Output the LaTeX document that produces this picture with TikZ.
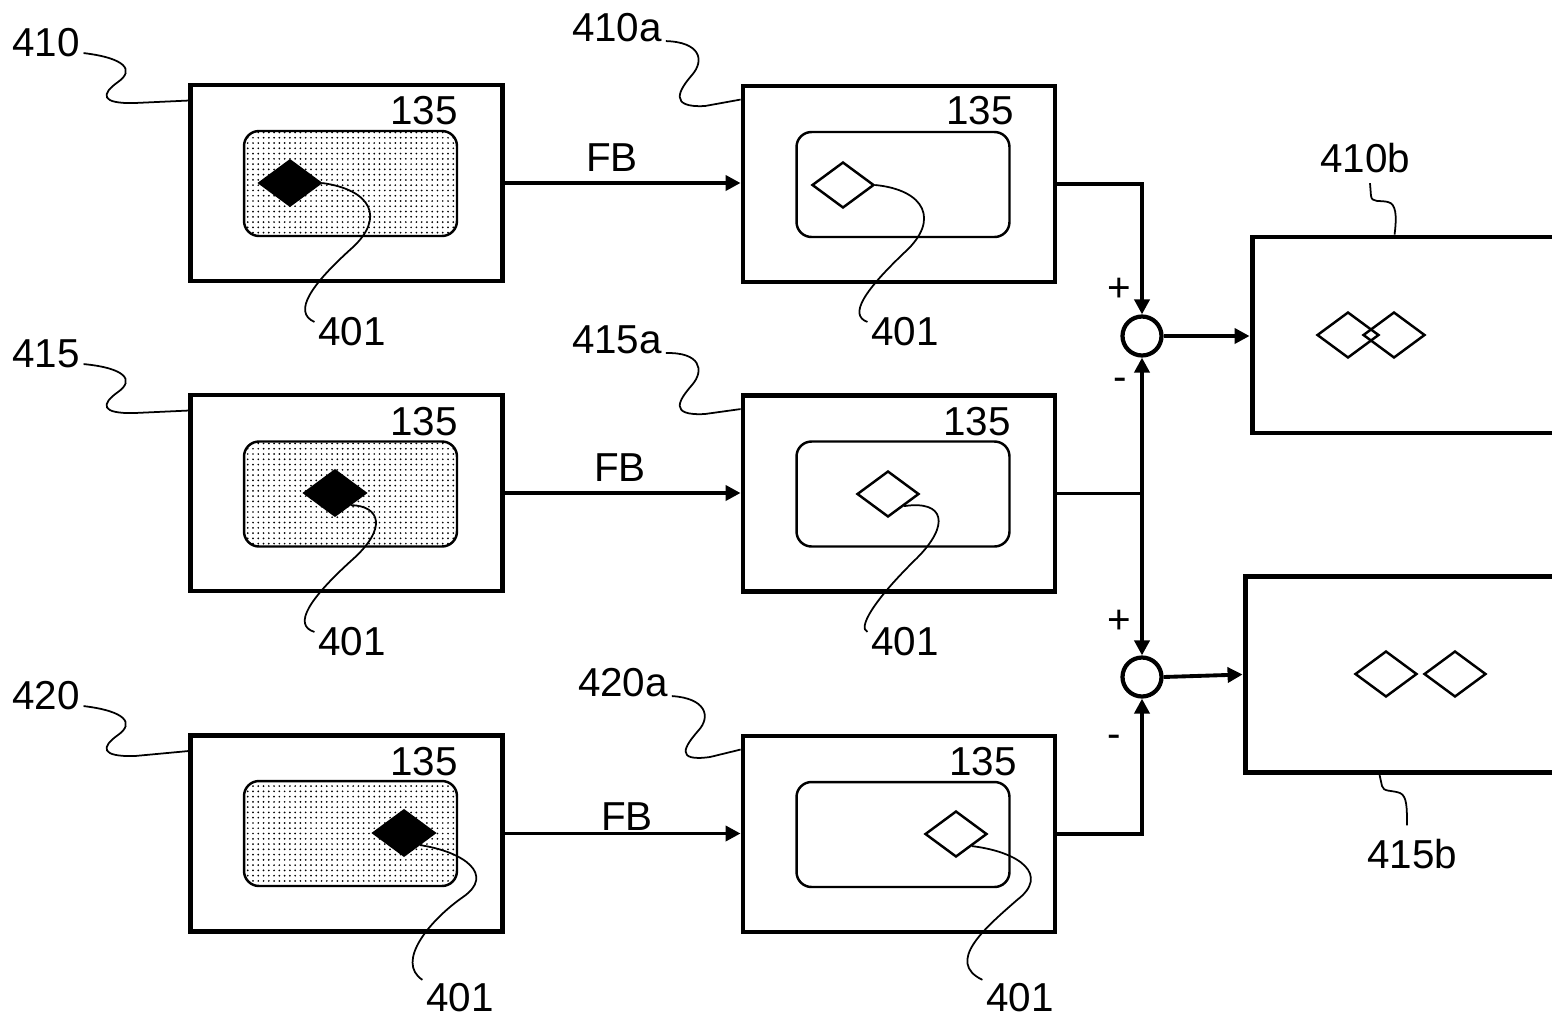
\documentclass[tikz,border=0pt]{standalone}
\usepackage{fontspec}
\setmainfont{Liberation Sans}
\usetikzlibrary{shapes.geometric,arrows.meta,patterns.meta,calc,positioning}
\tikzset{
  frame/.style={
    shape = rectangle,
    draw,
    line width = 2.8pt,
    inner sep = 0pt,
    minimum width = 6.24cm,
    minimum height = 3.92cm
  },
  screen/.style={
    shape = rectangle,
    draw,
    rounded corners = 0.3cm,
    line width = 1.4pt,
    inner sep = 0pt,
    minimum width = 4.26cm,
    minimum height = 2.1cm
  },
  dotscreen/.style={
    screen,
    pattern = {Dots[distance=3pt, radius=0.55pt]}
  },
}
\tikzset{
  spot/.style={
    shape = diamond,
    draw,
    fill = white,
    line width = 1.4pt,
    inner sep = 0pt,
    minimum width = 1.24cm,
    minimum height = 0.92cm
  },
  spotfill/.style={
    spot,
    fill = black
  },
  sumpt/.style={
    shape = circle,
    draw,
    fill = white,
    line width = 2.4pt,
    inner sep = 0pt,
    minimum size = 0.78cm
  },
  num/.style={
    font = \fontsize{23}{27}\selectfont,
    inner sep = 2pt
  },
  lead/.style={
    line width = 1pt
  },
  link/.style={
    line width = 2.2pt
  },
  flow/.style={
    line width = 2.2pt,
    -{Triangle[length=0.3cm, width=0.3cm]}
  }
}

\begin{document}
\begin{tikzpicture}[x=0.02cm, y=-0.02cm]
    \useasboundingbox (0,0) rectangle (1552,1018);
    % camera frames
    \node[frame] (L1) at (346.5,183) {};
    \node[frame] (L2) at (346.5,493) {};
    \node[frame] (L3) at (346.5,833.5) {};
    \node[frame] (M1) at (899,184) {};
    \node[frame] (M2) at (899,493.5) {};
    \node[frame] (M3) at (899,834) {};
    \node[frame] (B1) at (1408,335) {};
    \node[frame] (B2) at (1401,674.5) {};
    \node[dotscreen] (Ls1) at (350.5,183.5) {};
    \node[dotscreen] (Ls2) at (350.5,494) {};
    \node[dotscreen] (Ls3) at (350.5,833.5) {};
    \node[screen] (Ms1) at (903,184.5) {};
    \node[screen] (Ms2) at (903,494) {};
    \node[screen] (Ms3) at (903,834.5) {};
    \node[num] at (424,111) {135};
    \node[num] at (424,422) {135};
    \node[num] at (424,762) {135};
    \node[num] at (980,111) {135};
    \node[num] at (977,422) {135};
    \node[num] at (983,762) {135};
    % objects
    \node[spotfill] (Ld1) at (290,183) {};
    \node[spotfill] (Ld2) at (335,493) {};
    \node[spotfill] (Ld3) at (404,833) {};
    \node[spot] (Md1) at (843,185) {};
    \node[spot] (Md2) at (888,494) {};
    \node[spot] (Md3) at (956,834) {};
    \node[spot] (Bd1) at (1348,335) {};
    \node[spot, fill=none] (Bd2) at (1394,335) {};
    \node[spot] (Bd3) at (1386,674) {};
    \node[spot] (Bd4) at (1455,674) {};
    % 401 labels
    \node[num] (n1) at (352,332) {401};
    \node[num] (n2) at (905,332) {401};
    \node[num] (n3) at (352,642) {401};
    \node[num] (n4) at (905,642) {401};
    \node[num] (n5) at (460,998) {401};
    \node[num] (n6) at (1020,998) {401};
    \draw[lead] (Ld1.east) .. controls (372,190) and (385,218) .. (352,248) .. controls (312,284) and (292,312) .. (n1.165);
    \draw[lead] (Md1.east) .. controls (925,190) and (940,220) .. (905,252) .. controls (865,290) and (848,315) .. (n2.165);
    \draw[lead] (Ld2.south east) .. controls (380,506) and (388,528) .. (352,560) .. controls (310,598) and (292,625) .. (n3.165);
    \draw[lead] (Md2.south east) .. controls (945,500) and (950,525) .. (917,558) .. controls (872,602) and (858,628) .. (n4.165);
    \draw[lead] (Ld3.south east) .. controls (465,852) and (495,875) .. (463,897) .. controls (430,920) and (395,962) .. (n5.north west);
    \draw[lead] (Md3.south east) .. controls (1020,852) and (1050,875) .. (1017,900) .. controls (985,928) and (945,962) .. (n6.north west);
    % frame labels
    \node[num] (l410) at (46,43) {410};
    \node[num] (l415) at (46,354) {415};
    \node[num] (l420) at (46,696) {420};
    \node[num] (l410a) at (617,28) {410a};
    \node[num] (l415a) at (617,340) {415a};
    \node[num] (l420a) at (623,683) {420a};
    \node[num] (l410b) at (1365,158) {410b};
    \node[num] (l415b) at (1412,854) {415b};
    \draw[lead] (l410.-15) .. controls (125,58) and (135,70) .. (118,82) .. controls (101,94) and (100,104) .. (135,103) -- ($(L1.north west)+(0,18)$);
    \draw[lead] (l415.-15) .. controls (125,368) and (135,380) .. (118,392) .. controls (101,404) and (100,414) .. (135,413) -- ($(L2.north west)+(0,18)$);
    \draw[lead] (l420.-15) .. controls (125,711) and (135,723) .. (118,735) .. controls (101,747) and (100,757) .. (135,756) -- ($(L3.north west)+(0,18)$);
    \draw[lead] (l410a.-15) .. controls (700,42) and (705,60) .. (692,75) .. controls (679,90) and (668,108) .. (705,106) -- ($(M1.north west)+(0,16)$);
    \draw[lead] (l415a.-15) .. controls (700,352) and (705,370) .. (692,385) .. controls (679,400) and (668,416) .. (705,414) -- ($(M2.north west)+(0,16)$);
    \draw[lead] (l420a.-15) .. controls (705,698) and (712,716) .. (698,731) .. controls (685,746) and (674,762) .. (710,757) -- ($(M3.north west)+(0,16)$);
    \draw[lead] ([xshift=0.1cm,yshift=-0.13cm]l410b.south) -- (1371,196) .. controls (1372,203) and (1380,200) .. (1388,202) .. controls (1396,204) and (1397,215) .. ($(B1.north west)+(145,0)$);
    \draw[lead] ($(B2.south west)+(137,0)$) -- (1382,786) .. controls (1383,792) and (1392,790) .. (1400,793) .. controls (1407,796) and (1407,808) .. ([xshift=-0.1cm,yshift=0.2cm]l415b.north);
    % feedback paths
    \draw[flow] (L1.east) -- (L1.east -| M1.west);
    \draw[flow] (L2.east) -- (L2.east -| M2.west);
    \draw[flow] (L3.east) -- (L3.east -| M3.west);
    \node[num] at (612,158) {FB};
    \node[num] at (620,468) {FB};
    \node[num] at (627,817) {FB};
    % summing points
    \node[sumpt] (S1) at (1142,336) {};
    \node[sumpt] (S2) at (1142,677) {};
    \coordinate (J) at (S1 |- M2.east);
    \draw[flow] (M1.east) -| (S1.north);
    \draw[link] (M2.east) -- (J);
    \draw[flow] (J) -- (S1.south);
    \draw[flow] (J) -- (S2.north);
    \draw[flow] (M3.east) -| (S2.south);
    \draw[flow] (S1.east) -- (S1.east -| B1.west);
    \draw[flow] (S2.east) -- (B2.west);
    \node[num] at (1119,290) {+};
    \node[num] at (1120,384) {-};
    \node[num] at (1119,622) {+};
    \node[num] at (1114,741) {-};
\end{tikzpicture}
\end{document}
